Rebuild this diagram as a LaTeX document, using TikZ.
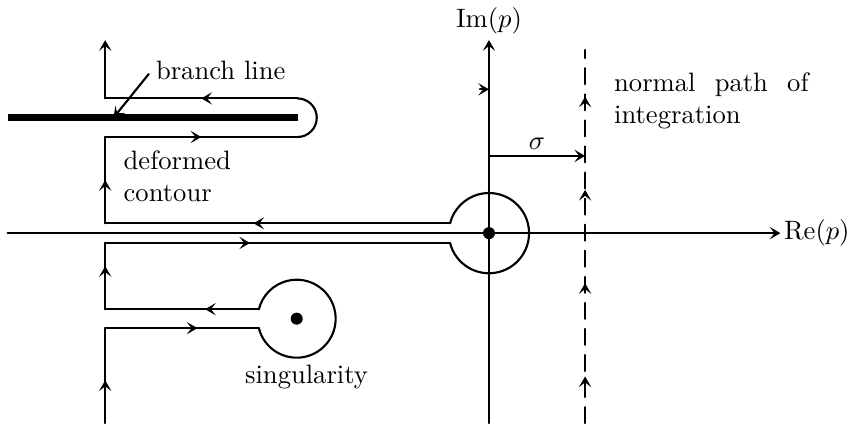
\documentclass[tikz,border=0pt]{standalone}
\usetikzlibrary{decorations.markings, arrows.meta}
\tikzset{
  mid arrow/.style={postaction={decorate, decoration={markings, mark=at position #1 with {\arrow{>}}}}},
  mid arrow/.default=0.5,
  branch cut/.style={line width=2.6pt, line cap=butt},
  bromwich/.style={dash pattern=on 6pt off 3.8pt,
    postaction={decorate, decoration={markings, mark=between positions 0.125 and 0.875 step 0.25 with {\arrow{>}}}}},
  pole/.style={circle, fill, inner sep=1.6pt},
}

\begin{document}
\begin{tikzpicture}[thick, line cap=round, >={Stealth[length=4pt, width=4.6pt, inset=1.8pt]}]
  \useasboundingbox (-6.46,-2.51) rectangle (4.73,3.08);
  \coordinate (O) at (0,0);  \coordinate (S) at (-2.54,-1.13);
  % axes
  \draw[->] (-6.36,0) -- (3.85,0) node[right, inner sep=1pt] (re) {$\mathrm{Re}(p)$};
  \draw[->] (0,-2.51) -- (0,2.55) node[above, inner sep=2pt] (im) {$\mathrm{Im}(p)$};
  \coordinate (t1) at (-0.12,1.90);  \coordinate (t2) at (0,1.90);
  \draw[->] (t1) -- (t2);
  % normal path
  \coordinate (d1) at (1.27,-2.51);  \coordinate (d2) at (1.27,2.42);
  \draw[bromwich] (d1) -- (d2);
  \coordinate (s1) at (0,1.02);  \coordinate (s2) at (1.27,1.02);
  \draw[->] (s1) -- (s2) node[midway, above, inner sep=2pt] (sig) {$\sigma$};
  \node[anchor=north west, text width=2.57cm, align=justify, inner sep=0pt] (normal)
    at (1.64,2.13) {normal path of integration};
  % branch line
  \coordinate (b1) at (-6.36,1.525);  \coordinate (b2) at (-2.52,1.525);
  \draw[branch cut] (b1) -- (b2);
  \node[anchor=base west] (branch) at (-4.53,2.035) {branch line};
  \coordinate (bp) at (-4.96,1.525);
  \draw[->] ([xshift=1pt, yshift=-1.5pt]branch.west) -- (bp);
  % deformed contour
  \coordinate (c1)  at (-5.07,-2.51);   \coordinate (c2)  at (-5.07,-1.255);
  \coordinate (c3)  at (-3.04,-1.255);  \coordinate (c4)  at (-3.04,-1.005);
  \coordinate (c5)  at (-5.07,-1.005);  \coordinate (c6)  at (-5.07,-0.13);
  \coordinate (c7)  at (-0.514,-0.13);  \coordinate (c8)  at (-0.514,0.13);
  \coordinate (c9)  at (-5.07,0.13);    \coordinate (c10) at (-5.07,1.27);
  \coordinate (c11) at (-2.53,1.27);    \coordinate (c12) at (-2.53,1.78);
  \coordinate (c13) at (-5.07,1.78);    \coordinate (c14) at (-5.07,2.55);
  \draw[mid arrow=0.45] (c1) -- (c2);
  \draw[mid arrow=0.6]  (c2) -- (c3);
  \draw (c3) arc[start angle=-166, end angle=166, radius=0.515];
  \draw[mid arrow=0.35] (c4) -- (c5);
  \draw[mid arrow=0.65] (c5) -- (c6);
  \draw[mid arrow=0.42] (c6) -- (c7);
  \draw (c7) arc[start angle=-165.8, end angle=165.8, radius=0.53];
  \draw[mid arrow=0.57] (c8) -- (c9);
  \draw[mid arrow] (c9) -- (c10);
  \draw[mid arrow] (c10) -- (c11);
  \draw (c11) arc[start angle=-90, end angle=90, radius=0.255];
  \draw[mid arrow] (c12) -- (c13);
  \draw[->] (c13) -- (c14);
  \node[anchor=north west, align=left, inner sep=0pt] (deformed) at (-4.84,1.10) {deformed\\contour};
  \node[anchor=base] (sing) at (-2.41,-1.98) {singularity};
  \foreach \pt in {O,S}{\node[pole] (dot-\pt) at (\pt) {};}
\end{tikzpicture}
\end{document}
